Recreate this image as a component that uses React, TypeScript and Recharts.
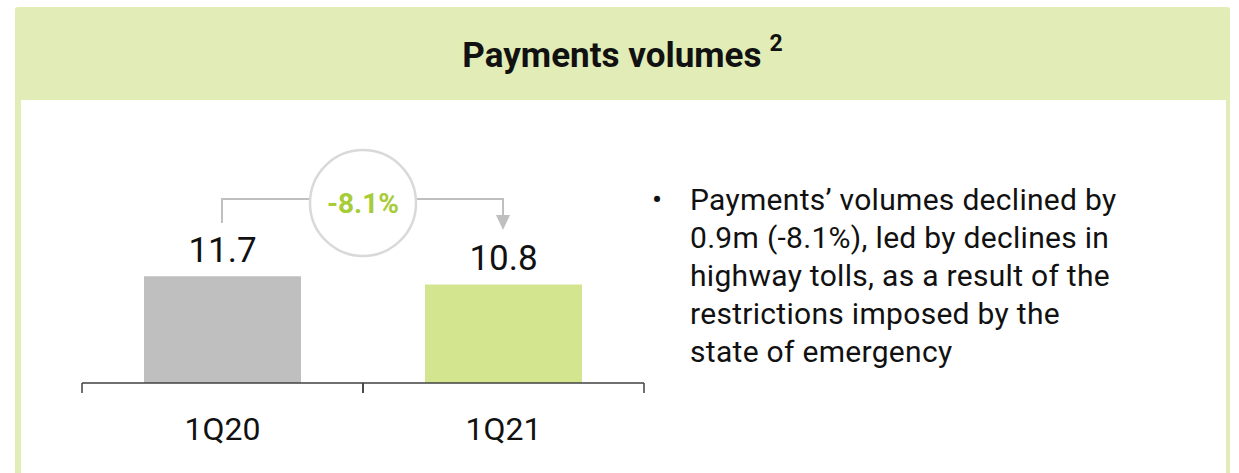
import React from 'react';
import { BarChart, Bar, XAxis, YAxis, Cell, LabelList } from 'recharts';

const categories = ['1Q20', '1Q21'];
const volumes = [11.7, 10.8];
const changeLabel = '-8.1%';
const titleText = 'Payments volumes';
const titleNote = '2';
const bulletLines = [
  'Payments\u2019 volumes declined by',
  '0.9m (-8.1%), led by declines in',
  'highway tolls, as a result of the',
  'restrictions imposed by the',
  'state of emergency',
];

const barColors = ['#bfbfbf', '#d4e590'];
const FONT = 'Roboto, "DejaVu Sans", sans-serif';

const data = categories.map((c, i) => ({ name: c, value: volumes[i] }));

const AxisTick = (props: any) => {
  const { x, y, payload } = props;
  const off = payload && typeof payload.offset === 'number' ? payload.offset : 140.75;
  return (
    <g>
      <line x1={x - off} y1={y} x2={x - off} y2={y + 10} stroke="#404040" strokeWidth={1.5} />
      <line x1={x + off} y1={y} x2={x + off} y2={y + 10} stroke="#404040" strokeWidth={1.5} />
      <text x={x} y={y + 57} textAnchor="middle" fontSize={32} fill="#111" fontFamily={FONT}>
        {payload.value}
      </text>
    </g>
  );
};

export default function App() {
  return (
    <div style={{ position: 'absolute', left: 0, top: 0, width: 1239, height: 473, background: '#fff', overflow: 'hidden', fontFamily: FONT }}>
      <div style={{ position: 'absolute', left: 15, top: 7, width: 1215, height: 480, background: '#e2ecb6', borderRadius: 3 }} />
      <div style={{ position: 'absolute', left: 21, top: 100, width: 1205, height: 380, background: '#fff' }} />
      <div style={{ position: 'absolute', left: 15, top: 9, width: 1215, height: 93, display: 'flex', alignItems: 'center', justifyContent: 'center', fontWeight: 700, fontSize: 35, color: '#111' }}>
        <span>{titleText}</span>
        <span style={{ fontSize: 23, position: 'relative', top: -12, marginLeft: 8 }}>{titleNote}</span>
      </div>
      <div style={{ position: 'absolute', left: 0, top: 0 }}>
        <BarChart width={700} height={473} data={data} margin={{ top: 100, right: 56, bottom: 30, left: 82 }}>
          <YAxis hide domain={[0, 31]} />
          <XAxis dataKey="name" height={60} tickSize={0} tickMargin={0} tickLine={false} axisLine={{ stroke: '#404040', strokeWidth: 1.5 }} tick={<AxisTick />} interval={0} />
          <Bar dataKey="value" barSize={157} isAnimationActive={false}>
            {data.map((d, i) => (
              <Cell key={d.name} fill={barColors[i]} />
            ))}
            <LabelList dataKey="value" position="top" offset={14} fontSize={35} fill="#111" fontFamily={FONT} formatter={(v: any) => Number(v).toFixed(1)} />
          </Bar>
        </BarChart>
      </div>
      <svg width={1239} height={473} style={{ position: 'absolute', left: 0, top: 0, pointerEvents: 'none' }}>
        <polyline points="222,223 222,199 310,199" fill="none" stroke="#bfbfbf" strokeWidth={2} />
        <polyline points="416,199 503,199 503,216" fill="none" stroke="#bfbfbf" strokeWidth={2} />
        <polygon points="496,215 510,215 503,230" fill="#bfbfbf" />
        <circle cx={363} cy={203} r={53} fill="#fff" stroke="#d9d9d9" strokeWidth={2.5} />
        <text x={363} y={213} textAnchor="middle" fontSize={28} fontWeight={700} fill="#a6cc38" fontFamily={FONT}>{changeLabel}</text>
      </svg>
      <div style={{ position: 'absolute', left: 650, top: 181, fontSize: 30, lineHeight: '38px', color: '#111', letterSpacing: 0.3 }}>
        {bulletLines.map((l, i) => (
          <div key={i} style={{ position: 'relative', paddingLeft: 40, whiteSpace: 'nowrap' }}>
            {i === 0 && <span style={{ position: 'absolute', left: 2, top: 0 }}>{'\u2022'}</span>}
            {l}
          </div>
        ))}
      </div>
    </div>
  );
}
